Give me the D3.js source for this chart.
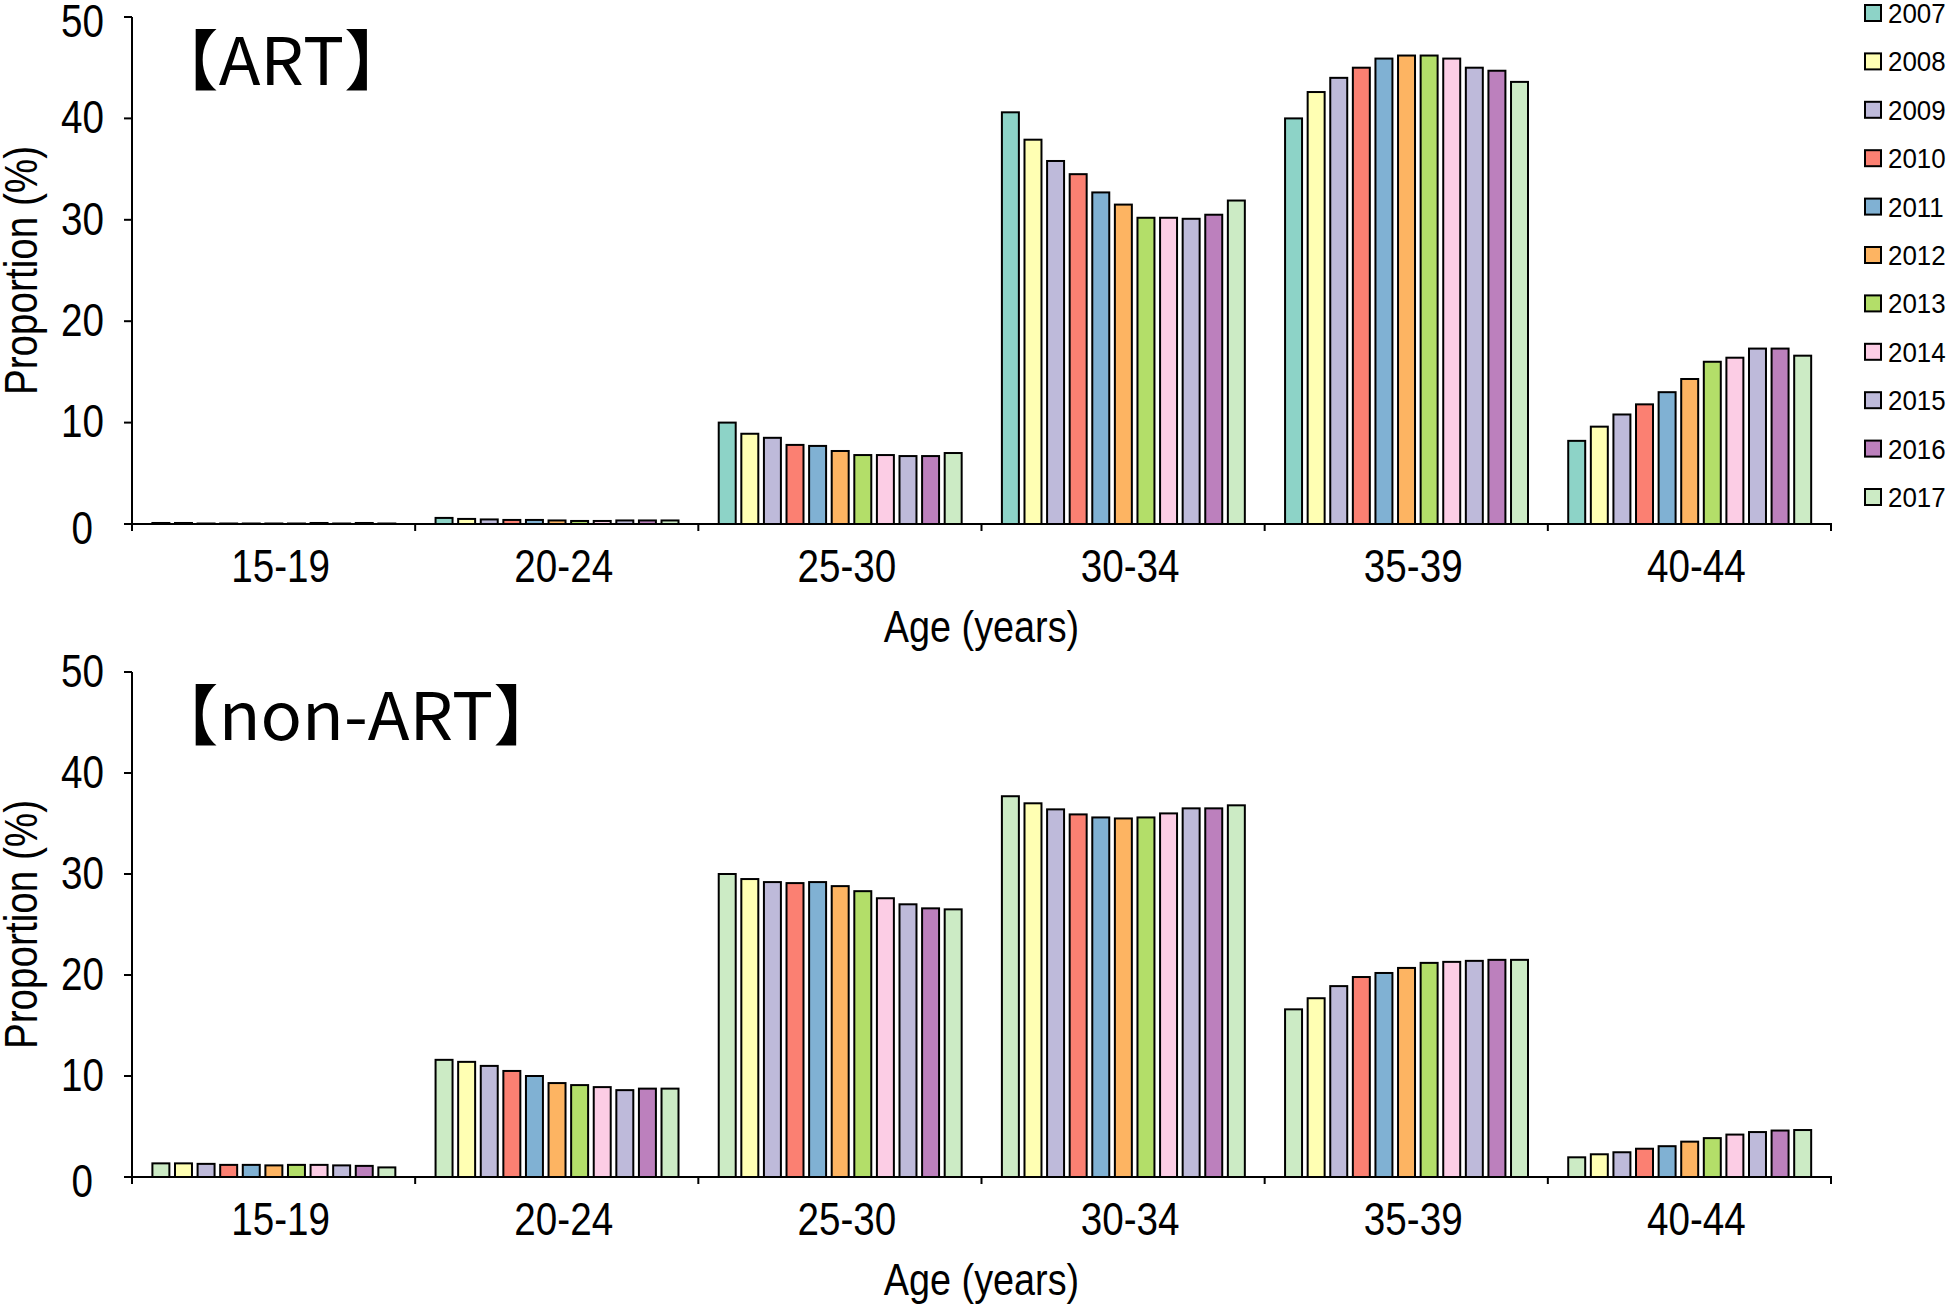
<!DOCTYPE html>
<html><head><meta charset="utf-8">
<script src="https://cdn.jsdelivr.net/npm/d3@7"></script>
<style>html,body{margin:0;padding:0;background:#fff;} svg{display:block}</style>
</head><body>
<svg id="chart" width="1946" height="1304"></svg>
<script>
// ---------------- DATA ----------------
const years = ["2007","2008","2009","2010","2011","2012","2013","2014","2015","2016","2017"];
const ageGroups = ["15-19","20-24","25-30","30-34","35-39","40-44"];
const yTickValues = [0, 10, 20, 30, 40, 50];

// ART: proportion (%) by age group, one value per year 2007..2017
const art_15_19 = [0.1, 0.1, 0.05, 0.05, 0.05, 0.05, 0.05, 0.1, 0.05, 0.1, 0.05];
const art_20_24 = [0.6, 0.5, 0.45, 0.4, 0.4, 0.35, 0.3, 0.3, 0.35, 0.35, 0.35];
const art_25_30 = [10.0, 8.9, 8.5, 7.8, 7.7, 7.2, 6.8, 6.8, 6.7, 6.7, 7.0];
const art_30_34 = [40.6, 37.9, 35.8, 34.5, 32.7, 31.5, 30.2, 30.2, 30.1, 30.5, 31.9];
const art_35_39 = [40.0, 42.6, 44.0, 45.0, 45.9, 46.2, 46.2, 45.9, 45.0, 44.7, 43.6];
const art_40_44 = [8.2, 9.6, 10.8, 11.8, 13.0, 14.3, 16.0, 16.4, 17.3, 17.3, 16.6];

// non-ART
const non_15_19 = [1.35, 1.35, 1.3, 1.2, 1.2, 1.15, 1.2, 1.2, 1.15, 1.1, 0.95];
const non_20_24 = [11.6, 11.4, 11.0, 10.5, 10.0, 9.3, 9.1, 8.9, 8.6, 8.75, 8.75];
const non_25_30 = [30.0, 29.5, 29.2, 29.1, 29.2, 28.8, 28.3, 27.6, 27.0, 26.6, 26.5];
const non_30_34 = [37.7, 37.0, 36.4, 35.9, 35.6, 35.5, 35.6, 36.0, 36.5, 36.5, 36.8];
const non_35_39 = [16.6, 17.7, 18.9, 19.8, 20.2, 20.7, 21.2, 21.3, 21.4, 21.5, 21.5];
const non_40_44 = [1.95, 2.25, 2.45, 2.8, 3.05, 3.5, 3.85, 4.2, 4.45, 4.6, 4.65];

const artValues = [art_15_19, art_20_24, art_25_30, art_30_34, art_35_39, art_40_44];
const nonArtValues = [non_15_19, non_20_24, non_25_30, non_30_34, non_35_39, non_40_44];

// ---------------- STYLE ----------------
const artColors = ["#8dd3c7","#ffffb3","#bebada","#fb8072","#80b1d3","#fdb462","#b3de69","#fccde5","#bebada","#bc80bd","#ccebc5"];
const nonArtColors = ["#ccebc5","#ffffb3","#bebada","#fb8072","#80b1d3","#fdb462","#b3de69","#fccde5","#bebada","#bc80bd","#ccebc5"];
const FONT = "'Liberation Sans', Arial, Helvetica, sans-serif";
const CJK = "'Noto Sans CJK JP', 'Noto Sans CJK SC', sans-serif";
const SX = 0.84;

const svg = d3.select("#chart");
const X_LEFT = 132, X_RIGHT = 1831;

const x0 = d3.scaleBand().domain(ageGroups).range([X_LEFT, X_RIGHT]).paddingInner(0).paddingOuter(0);
const bw = x0.bandwidth();
const x1 = d3.scaleBand().domain(years).range([bw * 0.0685, bw * 0.9335]).paddingInner(0.16);
const xEdge = d3.scaleLinear().domain([0, ageGroups.length]).range([X_LEFT, X_RIGHT]);

function panel(cfg) {
  const y = d3.scaleLinear().domain([0, 50]).range([cfg.yBottom, cfg.yTop]);
  const g = svg.append("g");

  // bars
  const grp = g.selectAll("g.grp").data(ageGroups).join("g")
    .attr("class", "grp")
    .attr("transform", d => `translate(${x0(d)},0)`);
  grp.selectAll("rect")
    .data((d, i) => years.map((yr, j) => ({ yr, j, v: cfg.values[i][j] })))
    .join("rect")
    .attr("x", d => x1(d.yr) + 1)
    .attr("width", x1.bandwidth() - 2)
    .attr("y", d => y(d.v))
    .attr("height", d => Math.max(0, y(0) - y(d.v)))
    .attr("fill", d => cfg.colors[d.j])
    .attr("stroke", "#000")
    .attr("stroke-width", 2);

  // y axis
  const ya = g.append("g")
    .attr("transform", `translate(${X_LEFT},0)`)
    .call(d3.axisLeft(y).tickValues(yTickValues).tickSize(8).tickSizeOuter(0).tickPadding(20).offset(0));
  ya.select(".domain").attr("stroke-width", 2);
  ya.selectAll(".tick line").attr("stroke-width", 2);
  ya.selectAll(".tick text")
    .attr("font-family", FONT).attr("font-size", 46).attr("fill", "#000")
    .attr("x", -28 / SX)
    .attr("transform", `scale(${SX},1)`);
  ya.selectAll(".tick text").filter(d => d === 0)
    .attr("x", -39 / SX).attr("y", 5);
  if (cfg.topLabelShift) {
    ya.selectAll(".tick text").filter(d => d === 50).attr("y", cfg.topLabelShift);
  }

  // x axis line with ticks at category boundaries
  const xa = g.append("g")
    .attr("transform", `translate(0,${cfg.yBottom})`)
    .call(d3.axisBottom(xEdge).tickValues(d3.range(ageGroups.length + 1)).tickFormat("").tickSize(7).tickSizeOuter(7).offset(0));
  xa.select(".domain").attr("stroke-width", 2);
  xa.selectAll(".tick line").attr("stroke-width", 2);

  // category labels
  const xl = g.append("g")
    .attr("transform", `translate(0,${cfg.yBottom})`)
    .call(d3.axisBottom(x0).tickSize(0).tickPadding(0).offset(0));
  xl.select(".domain").remove();
  xl.selectAll(".tick text")
    .attr("font-family", FONT).attr("font-size", 46).attr("fill", "#000")
    .attr("dy", 0).attr("y", 58)
    .attr("x", 7 / SX)
    .attr("transform", `scale(${SX},1)`);

  // axis titles
  g.append("text")
    .attr("transform", `translate(${(X_LEFT + X_RIGHT) / 2},${cfg.yBottom + 118}) scale(${SX},1)`)
    .attr("text-anchor", "middle")
    .attr("font-family", FONT).attr("font-size", 45)
    .text("Age (years)");
  g.append("text")
    .attr("transform", `translate(37,${(cfg.yTop + cfg.yBottom) / 2}) rotate(-90) scale(${SX},1)`)
    .attr("text-anchor", "middle")
    .attr("font-family", FONT).attr("font-size", 46)
    .text("Proportion (%)");

  // panel title
  g.append("text")
    .attr("transform", `translate(150,${cfg.yTop + 68}) scale(1.04,1)`)
    .attr("font-family", CJK).attr("font-size", 66)
    .text(cfg.title);
}

panel({ values: artValues, colors: artColors, yBottom: 524, yTop: 17, title: "【ART】", topLabelShift: 5 });
panel({ values: nonArtValues, colors: nonArtColors, yBottom: 1177, yTop: 672, title: "【non-ART】" });

// legend
const leg = svg.append("g").selectAll("g").data(years).join("g")
  .attr("transform", (d, i) => `translate(1865,${13 + 48.4 * i})`);
leg.append("rect")
  .attr("x", 0).attr("y", -8).attr("width", 16).attr("height", 16)
  .attr("fill", (d, i) => artColors[i]).attr("stroke", "#000").attr("stroke-width", 2);
leg.append("text")
  .attr("transform", `translate(23,10) scale(0.96,1)`)
  .attr("font-family", FONT).attr("font-size", 27)
  .text(d => d);
</script>
</body></html>
